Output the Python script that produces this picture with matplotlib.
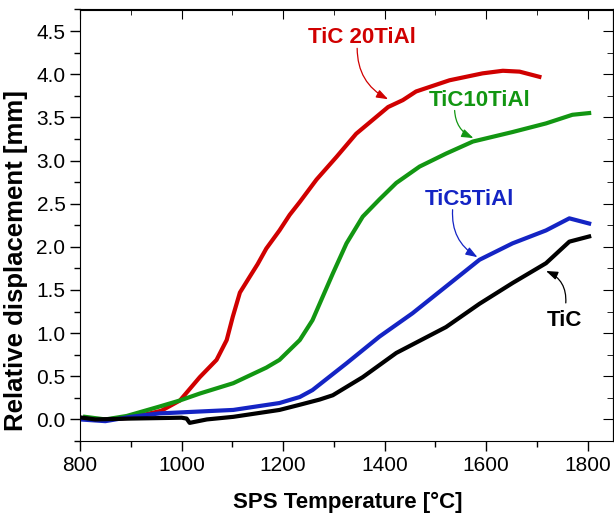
import matplotlib.pyplot as plt
from matplotlib.ticker import MultipleLocator

plt.rcParams['font.family'] = ['Liberation Sans', 'DejaVu Sans']

# TiC 20TiAl
t_20 = [850, 900, 960, 997, 1036, 1069, 1089, 1101, 1115, 1134, 1150, 1167, 1193, 1213,
        1233, 1266, 1305, 1344, 1407, 1436, 1462, 1528, 1593, 1633, 1666, 1705]
d_20 = [0.0, 0.02, 0.10, 0.22, 0.49, 0.69, 0.92, 1.19, 1.47, 1.65, 1.80, 1.98, 2.19, 2.37,
        2.52, 2.78, 3.04, 3.31, 3.62, 3.70, 3.80, 3.93, 4.01, 4.04, 4.03, 3.97]

# TiC10TiAl
t_10 = [810, 850, 892, 957, 997, 1036, 1102, 1167, 1193, 1233, 1258, 1278, 1298, 1325,
        1357, 1390, 1423, 1469, 1521, 1574, 1652, 1718, 1770, 1803]
d_10 = [0.03, 0.0, 0.04, 0.15, 0.22, 0.30, 0.42, 0.60, 0.69, 0.92, 1.15, 1.42, 1.69, 2.04,
        2.35, 2.55, 2.74, 2.93, 3.08, 3.22, 3.33, 3.43, 3.53, 3.55]

# TiC5TiAl
t_5 = [800, 850, 900, 957, 1102, 1193, 1233, 1258, 1325, 1390, 1455, 1521, 1587, 1652,
       1718, 1764, 1803]
d_5 = [0.0, -0.02, 0.03, 0.07, 0.11, 0.19, 0.26, 0.34, 0.65, 0.96, 1.23, 1.54, 1.85, 2.04,
       2.19, 2.33, 2.27]

# TiC
t_0 = [805, 830, 900, 1000, 1010, 1016, 1050, 1102, 1193, 1233, 1272, 1298, 1357, 1423,
       1521, 1587, 1652, 1718, 1764, 1803]
d_0 = [0.02, 0.0, 0.01, 0.02, 0.01, -0.04, 0.0, 0.03, 0.11, 0.17, 0.23, 0.28, 0.49, 0.77,
       1.07, 1.34, 1.58, 1.81, 2.06, 2.12]

red, green, blue = '#d00000', '#129612', '#1424c4'

fig = plt.figure(figsize=(6.14, 5.17), dpi=100)
ax = fig.add_axes([80 / 614, 1 - 441 / 517, (613 - 80) / 614, (441 - 9.5) / 517])

ax.plot(t_20, d_20, color=red, lw=3.0)
ax.plot(t_10, d_10, color=green, lw=3.0)
ax.plot(t_5, d_5, color=blue, lw=3.0)
ax.plot(t_0, d_0, color='black', lw=3.0)

ax.set_xlim(800, 1850)
ax.set_ylim(-0.25, 4.75)
ax.xaxis.set_major_locator(MultipleLocator(200))
ax.xaxis.set_minor_locator(MultipleLocator(100))
ax.yaxis.set_major_locator(MultipleLocator(0.5))
ax.yaxis.set_minor_locator(MultipleLocator(0.25))
ax.yaxis.set_major_formatter(plt.FuncFormatter(lambda v, p: f'{v:.1f}'))
ax.tick_params(which='both', direction='out', labelsize=15, width=1)
ax.tick_params(which='major', length=7)
ax.tick_params(which='minor', length=4)

ax2 = ax.secondary_xaxis('top')
ax2.xaxis.set_major_locator(MultipleLocator(200))
ax2.xaxis.set_minor_locator(MultipleLocator(100))
ax2.tick_params(which='both', direction='in', labeltop=False)
ax2.tick_params(which='major', length=7)
ax2.tick_params(which='minor', length=4)
ax3 = ax.secondary_yaxis('right')
ax3.yaxis.set_major_locator(MultipleLocator(0.5))
ax3.yaxis.set_minor_locator(MultipleLocator(0.25))
ax3.tick_params(which='both', direction='in', labelright=False)
ax3.tick_params(which='major', length=7)
ax3.tick_params(which='minor', length=4)

ax.set_xlabel('SPS Temperature [°C]', fontsize=16, fontweight='bold')
ax.set_ylabel('Relative displacement [mm]', fontsize=18.5, fontweight='bold')
ax.xaxis.set_label_coords(0.502, -0.118)
ax.yaxis.set_label_coords(-0.097, 0.418)

def label(text, pos, start, end, color, rad):
    ax.text(pos[0], pos[1], text, color=color, fontsize=16, fontweight='bold',
            ha='center', va='center')
    ax.annotate('', xy=end, xytext=start,
                arrowprops=dict(arrowstyle='-|>,head_length=0.7,head_width=0.25',
                                color=color, lw=0.9, shrinkA=0, shrinkB=0,
                                connectionstyle=f'arc3,rad={rad}'))

label('TiC 20TiAl', (1355, 4.42), (1346, 4.30), (1407, 3.71), red, 0.3)
label('TiC10TiAl', (1587, 3.69), (1538, 3.58), (1575, 3.26), green, 0.3)
label('TiC5TiAl', (1567, 2.55), (1534, 2.43), (1583, 1.88), blue, 0.3)
label('TiC', (1754, 1.15), (1757, 1.35), (1718, 1.72), 'black', 0.35)

fig.savefig('out.png', dpi=100)
